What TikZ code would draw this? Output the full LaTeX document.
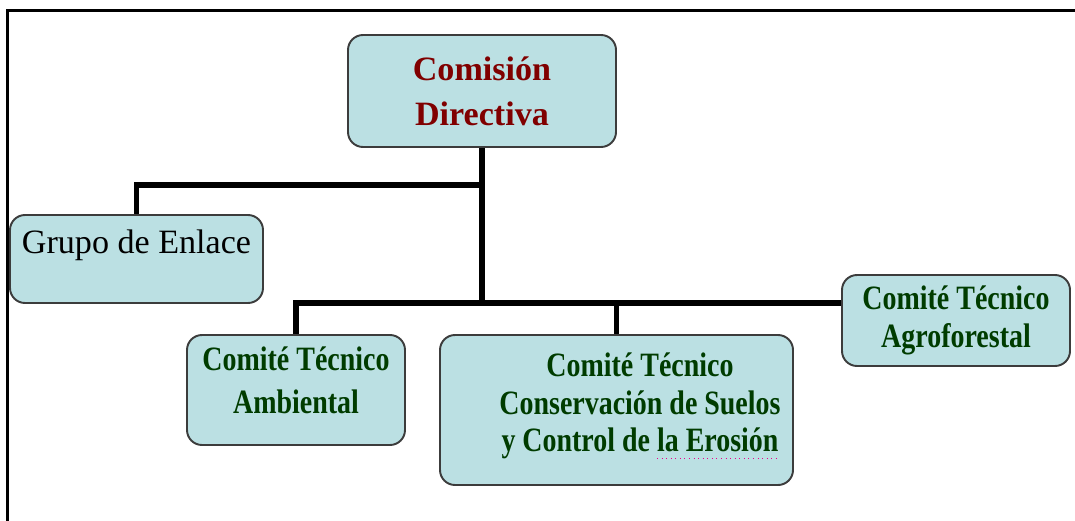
\documentclass[tikz,border=0pt]{standalone}
\usepackage{fontspec}
\setmainfont{Liberation Serif}
\newfontfamily\narrowserif[FakeStretch=0.82]{Liberation Serif}
\usepackage{xcolor}
\usetikzlibrary{positioning, calc}
\definecolor{boxfill}{RGB}{187,224,227}
\definecolor{boxline}{RGB}{60,60,60}
\definecolor{headred}{RGB}{128,0,0}
\definecolor{comgreen}{RGB}{0,60,0}

\begin{document}
\begin{tikzpicture}[
    unit/.style={draw=boxline, line width=1.1pt, fill=boxfill, rounded corners=0.3cm, align=center},
    head/.style={unit, font=\fontsize{19.4}{25.6}\selectfont\bfseries, text=headred},
    comite/.style={font=\narrowserif\fontsize{19.4}{21.5}\selectfont\bfseries, text=comgreen, align=center},
    link/.style={line width=3.2pt}
]
    \useasboundingbox (0,0) rectangle (21.5,-10.42);
    % Page frame
    \draw[line width=1.6pt] (0.15,-10.42) |- (21.5,-0.21);

    % Head
    \node[head, minimum width=5.36cm, minimum height=2.24cm] (dir) at (9.64,-1.82) {Comisión\\Directiva};

    % Liaison group
    \node[unit, minimum width=5.06cm, font=\fontsize{19.4}{23}\selectfont, inner ysep=0.1cm, text height=0.66cm, text depth=0.9cm] (grupo) at (2.73,-5.18) {Grupo de Enlace};

    % Technical committees
    \node[unit, minimum width=4.36cm, minimum height=2.2cm,
          label={[comite, yshift=0.2cm]center:{Comité Técnico\\[0.1cm]Ambiental}}] (amb) at (5.92,-7.8) {};
    \node[unit, minimum width=7.06cm, minimum height=3cm,
          label={[comite, xshift=0.47cm, yshift=0.08cm]center:{Comité Técnico\\Conservación de Suelos\\y Control de la Erosión}}] (cons) at (12.33,-8.2) {};
    \node[unit, comite, minimum width=4.56cm, minimum height=1.82cm] (agro) at (19.12,-6.41) {Comité Técnico\\Agroforestal};

    % Connectors
    \coordinate (upper) at (9.64,-3.7);
    \coordinate (lower) at (9.64,-6.06);
    \draw[link] (dir.south) -- (lower);
    \draw[link] (upper) -| (grupo.north);
    \draw[link] (amb.north) |- (agro.west |- lower);
    \draw[link] (cons.north) -- (cons.north |- lower);

    % spell-check mark
    \draw[magenta, dotted, line width=0.6pt] ($(cons.center)+(0.81,-0.97)$) -- ($(cons.center)+(3.27,-0.97)$);
\end{tikzpicture}
\end{document}
